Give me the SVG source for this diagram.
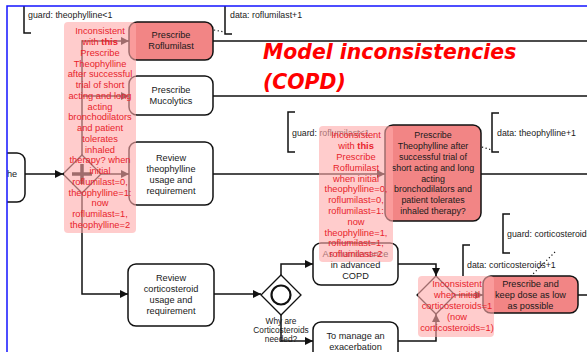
<svg xmlns="http://www.w3.org/2000/svg" width="587" height="352" viewBox="0 0 587 352">
<style>
.node{fill:#fff;stroke:#111;stroke-width:1.5}
.red{fill:#f28585}
.t{font-family:"Liberation Sans",Arial,sans-serif;font-size:9.2px;fill:#1a1a1a;text-anchor:middle}
.ts{font-size:8.9px}
.lbl{font-family:"Liberation Sans",Arial,sans-serif;font-size:8.8px;fill:#1a1a1a}
.con{fill:none;stroke:#111;stroke-width:1.5}
.gw{fill:#fff;stroke:#111;stroke-width:1.3}
.br{fill:none;stroke:#111;stroke-width:1.5}
.dot{fill:none;stroke:#111;stroke-width:1.2;stroke-dasharray:1.2 2.5}
.note{fill:#ffaaaa;fill-opacity:0.6}
.nt{font-family:"Liberation Sans",Arial,sans-serif;font-size:9.3px;fill:#e8232b;text-anchor:middle}
.title{font-family:"DejaVu Sans",Verdana,sans-serif;font-size:20.4px;font-weight:bold;font-style:italic;fill:#ff0000}
</style>
<defs>
<marker id="arr" viewBox="0 0 10 10" refX="10" refY="5" markerWidth="8" markerHeight="8" markerUnits="userSpaceOnUse" orient="auto">
<path d="M0,0 L10,5 L0,10 z" fill="#111"/>
</marker>
<clipPath id="frame"><rect x="7" y="6" width="580" height="346"/></clipPath>
</defs>
<rect width="587" height="352" fill="#fff"/>
<g clip-path="url(#frame)">
<g id="connectors">
<path class="con" d="M25,174 H63" marker-end="url(#arr)"/>
<path class="con" d="M82,155 V41 H129" marker-end="url(#arr)"/>
<path class="con" d="M82,96 H129" marker-end="url(#arr)"/>
<path class="con" d="M101,174 H129" marker-end="url(#arr)"/>
<path class="con" d="M82,193 V294 H128" marker-end="url(#arr)"/>
<path class="con" d="M213,41 H587"/>
<path class="con" d="M213,96 H587"/>
<path class="con" d="M213,174 H385" marker-end="url(#arr)"/>
<path class="con" d="M481,174 H587"/>
<path class="con" d="M214,294 H261" marker-end="url(#arr)"/>
<path class="con" d="M281,275 V264 H313" marker-end="url(#arr)"/>
<path class="con" d="M281,315 V341 H313" marker-end="url(#arr)"/>
<path class="con" d="M398,264 H436 V276" marker-end="url(#arr)"/>
<path class="con" d="M398,341 H436 V314" marker-end="url(#arr)"/>
<path class="con" d="M455,295 H483" marker-end="url(#arr)"/>
<path class="con" d="M578,295 H587"/>
<path class="dot" d="M214,30 L224,32"/>
<path class="dot" d="M482,147 L492,150"/>
<path class="dot" d="M528,279 L556,251"/>
</g>
<g id="ann-guard-theophylline">
<path class="br" d="M31,0 H24 V33 H31"/>
<text class="lbl" x="28" y="18">guard: theophylline&lt;1</text>
</g>
<g id="ann-data-roflumilast">
<path class="br" d="M232,0 H225 V34 H232"/>
<text class="lbl" x="230" y="18">data: roflumilast+1</text>
</g>
<g id="ann-guard-roflumilast">
<path class="br" d="M295,112 H288 V152 H295"/>
<text class="lbl" x="292" y="135.5">guard: roflumilast&lt;1</text>
</g>
<g id="ann-data-theophylline">
<path class="br" d="M499,113 H492 V152 H499"/>
<text class="lbl" x="497" y="135.5">data: theophylline+1</text>
</g>
<g id="ann-guard-corticosteroids">
<path class="br" d="M510,214 H503 V253 H510"/>
<text class="lbl" x="507" y="237">guard: corticosteroids&lt;1</text>
</g>
<g id="ann-data-corticosteroids">
<path class="br" d="M470,245 H463 V276"/>
<text class="lbl" x="467" y="268">data: corticosteroids+1</text>
</g>
<g id="n-prev">
<rect class="node" x="-60" y="153" width="85" height="49" rx="8"/>
<text class="t" x="12" y="177.4">he</text>
</g>
<g id="gw-parallel">
<path class="gw" d="M82,155 L101,174 L82,193 L63,174 z"/>
<path d="M82,164 V184 M72,174 H92" stroke="#111" stroke-width="3.5"/>
</g>
<g id="n-roflumilast">
<rect class="node red" x="129" y="22" width="84" height="38" rx="8"/>
<text class="t" x="171" y="38.4">Prescribe</text>
<text class="t" x="171" y="49.4">Roflumilast</text>
</g>
<g id="n-mucolytics">
<rect class="node" x="129" y="76" width="84" height="39" rx="8"/>
<text class="t" x="171" y="93.4">Prescribe</text>
<text class="t" x="171" y="104.2">Mucolytics</text>
</g>
<g id="n-review-theophylline">
<rect class="node" x="129" y="142" width="84" height="63" rx="8"/>
<text class="t" x="171" y="161.4">Review</text>
<text class="t" x="171" y="172.1">theophylline</text>
<text class="t" x="171" y="182.8">usage and</text>
<text class="t" x="171" y="193.5">requirement</text>
</g>
<g id="n-review-corticosteroid">
<rect class="node" x="128" y="264" width="86" height="62" rx="8"/>
<text class="t" x="171" y="281.4">Review</text>
<text class="t" x="171" y="292.1">corticosteroid</text>
<text class="t" x="171" y="302.8">usage and</text>
<text class="t" x="171" y="313.5">requirement</text>
</g>
<g id="gw-inclusive">
<path class="gw" d="M281,275 L301,295 L281,315 L261,295 z"/>
<circle cx="281" cy="295" r="9.5" fill="none" stroke="#111" stroke-width="2.2"/>
<text class="lbl" style="font-size:8.3px" text-anchor="middle" x="281" y="323.7">Why are</text>
<text class="lbl" style="font-size:8.3px" text-anchor="middle" x="281" y="332.9">Corticosteroids</text>
<text class="lbl" style="font-size:8.3px" text-anchor="middle" x="281" y="341.9">needed?</text>
</g>
<g id="n-maintenance">
<rect class="node" x="313" y="243" width="85" height="42" rx="8"/>
<text class="t" x="355.5" y="257.4">As maintenance</text>
<text class="t" x="355.5" y="268.1">in advanced</text>
<text class="t" x="355.5" y="278.8">COPD</text>
</g>
<g id="n-exacerbation">
<rect class="node" x="313" y="322" width="85" height="45" rx="8"/>
<text class="t" x="355.5" y="339.4">To manage an</text>
<text class="t" x="355.5" y="350.1">exacerbation</text>
</g>
<g id="gw-merge">
<path class="gw" d="M436,276 L455,295 L436,314 L417,295 z"/>
</g>
<g id="n-keep-dose">
<rect class="node red" x="483" y="276" width="95" height="37" rx="8"/>
<text class="t" x="530.5" y="287.4">Prescribe and</text>
<text class="t" x="530.5" y="298.1">keep dose as low</text>
<text class="t" x="530.5" y="308.8">as possible</text>
</g>
<g id="n-theophylline">
<rect class="node red" x="385" y="125" width="96" height="96" rx="8"/>
<text class="t ts" x="433" y="138.4">Prescribe</text>
<text class="t ts" x="433" y="149.2">Theophylline after</text>
<text class="t ts" x="433" y="160">successful trial of</text>
<text class="t ts" x="433" y="170.8">short acting and long</text>
<text class="t ts" x="433" y="181.6">acting</text>
<text class="t ts" x="433" y="192.4">bronchodilators and</text>
<text class="t ts" x="433" y="203.2">patient tolerates</text>
<text class="t ts" x="433" y="214">inhaled therapy?</text>
</g>
<g id="title">
<text class="title" x="263" y="58.5">Model inconsistencies</text>
<text class="title" x="263" y="89">(COPD)</text>
</g>
<g id="note-1">
<rect class="note" x="64" y="22" width="72" height="211" rx="4"/>
<text class="nt" x="100" y="34.3">Inconsistent</text>
<text class="nt" x="100" y="45">with <tspan font-weight="bold">this</tspan></text>
<text class="nt" x="100" y="55.8">Prescribe</text>
<text class="nt" x="100" y="66.5">Theophylline</text>
<text class="nt" x="100" y="77.3">after successful</text>
<text class="nt" x="100" y="88">trial of short</text>
<text class="nt" x="100" y="98.8">acting and long</text>
<text class="nt" x="100" y="109.5">acting</text>
<text class="nt" x="100" y="120.3">bronchodilators</text>
<text class="nt" x="100" y="131">and patient</text>
<text class="nt" x="100" y="141.8">tolerates</text>
<text class="nt" x="100" y="152.5">inhaled</text>
<text class="nt" x="100" y="163.3">therapy? when</text>
<text class="nt" x="100" y="174">initial</text>
<text class="nt" x="100" y="184.8">roflumilast=0,</text>
<text class="nt" x="100" y="195.5">theophylline=1:</text>
<text class="nt" x="100" y="206.3">now</text>
<text class="nt" x="100" y="217">roflumilast=1,</text>
<text class="nt" x="100" y="227.8">theophylline=2</text>
</g>
<g id="note-2">
<rect class="note" x="319" y="126" width="74" height="136" rx="4"/>
<text class="nt" x="356" y="138.3">Inconsistent</text>
<text class="nt" x="356" y="149.1">with <tspan font-weight="bold">this</tspan></text>
<text class="nt" x="356" y="159.9">Prescribe</text>
<text class="nt" x="356" y="170.7">Roflumilast</text>
<text class="nt" x="356" y="181.5">when initial</text>
<text class="nt" x="356" y="192.3">theophylline=0,</text>
<text class="nt" x="356" y="203.1">roflumilast=0,</text>
<text class="nt" x="356" y="213.9">roflumilast=1:</text>
<text class="nt" x="356" y="224.7">now</text>
<text class="nt" x="356" y="235.5">theophylline=1,</text>
<text class="nt" x="356" y="246.3">roflumilast=1,</text>
<text class="nt" x="356" y="257.1">roflumilast=2</text>
</g>
<g id="note-3">
<rect class="note" x="418" y="276" width="76" height="61" rx="4"/>
<text class="nt" x="457" y="287.3">Inconsistent</text>
<text class="nt" x="457" y="298.2">when initial</text>
<text class="nt" x="457" y="309.1">corticosteroids=1</text>
<text class="nt" x="457" y="320">(now</text>
<text class="nt" x="457" y="330.9">corticosteroids=1)</text>
</g>
</g>
<path d="M7,352 V6 H587" fill="none" stroke="#1414ff" stroke-width="1.5"/>
</svg>
